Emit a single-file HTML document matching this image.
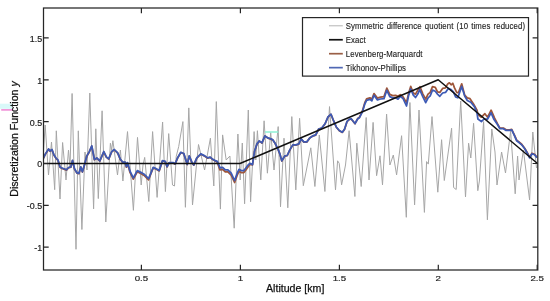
<!DOCTYPE html>
<html><head><meta charset="utf-8"><style>
html,body{margin:0;padding:0;background:#fff;width:550px;height:301px;overflow:hidden}
svg{display:block;will-change:transform}
</style></head><body>
<svg width="550" height="301" viewBox="0 0 550 301"><defs><clipPath id="c"><rect x="43.7" y="8" width="494" height="262"/></clipPath></defs><rect width="550" height="301" fill="#fff"/><g clip-path="url(#c)" fill="none" stroke-linejoin="round"><polyline points="43.5,150.0 45.2,125.0 48.5,175.0 51.5,142.0 54.7,189.7 56.3,130.8 60.0,199.0 62.6,142.5 66.0,180.0 68.5,150.0 70.0,168.0 72.1,93.5 76.0,249.3 78.3,130.8 81.9,229.5 85.0,152.0 87.0,170.0 89.8,93.0 93.6,208.9 95.8,128.8 98.3,198.6 102.1,110.8 105.8,222.0 110.4,143.2 111.6,150.0 112.9,140.7 117.5,175.0 120.4,150.0 122.9,181.0 127.5,131.6 133.4,210.3 137.5,137.4 141.2,185.0 143.0,165.0 144.7,157.4 148.8,201.5 152.6,131.6 157.1,197.4 162.6,122.0 165.4,191.6 168.7,133.6 172.5,185.0 174.5,186.0 176.2,156.5 178.7,146.6 182.9,121.6 185.4,207.3 188.8,107.9 192.5,205.0 198.5,144.5 204.6,170.0 210.4,138.2 213.8,186.0 216.3,101.6 220.4,209.1 222.6,134.9 226.2,160.0 229.9,156.0 234.2,228.2 237.9,134.0 240.2,180.0 242.3,143.0 244.6,203.8 248.3,110.0 250.6,201.8 254.1,131.6 255.8,160.0 257.4,130.7 260.8,179.9 264.1,120.8 267.4,173.2 270.7,132.4 274.0,170.0 278.2,126.6 280.5,206.8 284.0,138.2 287.8,207.8 291.8,116.6 295.8,189.9 299.6,118.3 303.3,185.7 310.8,147.8 314.9,186.5 319.3,135.0 324.9,191.5 329.5,106.6 335.5,189.9 337.6,160.8 339.2,163.3 341.6,184.9 345.5,165.0 349.1,130.7 354.9,196.5 356.8,143.2 361.2,186.5 366.2,117.5 369.0,180.0 373.1,122.4 376.6,175.7 380.0,155.8 382.5,184.9 386.6,114.1 389.9,165.0 393.3,155.0 396.6,174.9 401.6,135.7 406.3,217.3 409.9,102.5 414.6,204.9 419.0,110.0 424.4,212.4 426.6,161.6 428.3,164.1 432.0,116.6 437.8,192.2 441.6,139.7 444.3,180.5 451.6,128.2 453.6,187.5 456.2,189.5 460.7,101.0 465.5,197.0 468.6,143.2 470.8,158.0 473.6,123.3 477.8,190.7 479.4,181.0 483.6,121.6 487.4,219.8 491.8,129.0 495.0,152.0 497.0,185.0 501.6,152.0 505.5,173.0 510.6,131.0 515.2,193.8 517.6,156.0 519.0,180.0 523.4,150.0 529.6,200.0 532.8,132.0 536.5,168.0" stroke="#a6a6a6" stroke-width="1"/><line x1="265" y1="132" x2="278.4" y2="132" stroke="#8ef2d4" stroke-width="1.5"/><polyline points="43.0,159.2 45.4,154.2 48.6,149.2 50.0,151.3 52.0,149.8 54.0,155.3 56.0,158.3 58.0,160.3 60.0,167.2 61.3,168.1 64.0,169.1 66.5,170.1 68.5,167.8 70.9,167.2 72.5,160.6 74.5,169.1 76.9,173.1 78.9,173.7 80.8,167.2 82.4,172.1 84.4,165.2 86.8,156.2 89.2,152.2 91.8,146.2 94.4,159.8 96.8,158.2 99.8,161.2 103.8,151.8 106.3,157.2 108.7,159.2 111.7,151.8 114.3,149.8 117.7,153.2 120.4,159.6 122.7,162.3 125.3,162.4 126.4,167.2 127.5,163.3 130.0,172.4 133.3,179.1 137.3,171.8 141.2,173.8 144.6,175.8 148.6,179.8 153.2,168.0 155.9,168.9 159.2,170.9 162.5,160.9 165.2,161.6 167.1,166.9 169.1,162.9 173.1,162.9 175.1,164.2 177.5,158.3 180.8,152.6 183.8,153.8 187.2,164.6 189.2,156.2 191.8,162.2 193.8,165.2 196.8,158.2 200.8,154.2 204.8,156.2 207.7,158.2 210.2,157.4 212.7,159.6 215.3,161.0 217.3,162.4 220.0,169.9 222.6,169.3 225.3,171.9 227.9,171.9 231.2,175.2 234.6,182.5 237.2,175.2 239.0,171.3 241.2,172.6 243.9,172.6 245.9,169.9 247.8,167.3 249.8,164.5 252.5,164.8 254.5,151.5 257.0,144.1 259.3,141.1 261.9,143.1 264.9,136.1 267.9,138.1 270.9,139.1 272.9,140.1 274.9,143.1 277.9,149.1 279.9,154.1 281.8,161.0 284.8,156.1 287.2,155.7 289.8,150.1 292.8,145.1 295.8,145.1 298.8,144.1 301.2,139.1 303.8,142.1 306.7,142.1 309.7,138.1 312.7,136.1 315.7,135.1 318.7,129.2 321.7,128.2 325.0,124.0 328.0,117.0 331.0,114.4 333.3,120.2 336.3,127.2 339.3,130.7 342.3,132.4 344.6,129.2 347.0,121.7 349.1,119.6 351.2,119.0 355.0,123.7 357.8,118.5 359.5,117.1 362.4,110.9 364.8,102.7 366.6,98.8 369.9,97.8 371.8,99.2 374.0,93.6 377.4,98.1 380.5,97.1 384.0,96.6 386.8,88.2 389.8,94.4 392.7,95.6 395.6,95.4 398.0,96.3 400.3,94.6 403.1,96.9 406.5,102.6 408.7,93.0 410.7,86.4 413.3,93.0 415.5,94.1 417.8,90.1 420.0,86.7 422.9,94.1 425.7,99.2 428.0,94.1 430.2,92.4 432.5,86.7 435.3,87.3 437.5,91.8 439.8,92.4 442.6,88.4 445.5,87.9 447.7,83.9 449.4,82.8 451.1,84.8 452.8,83.3 454.5,87.9 456.8,92.6 458.5,92.6 461.7,83.8 464.7,95.2 467.3,97.8 470.0,98.7 473.5,104.0 477.0,110.2 477.9,114.6 481.4,117.2 484.9,113.7 487.6,117.2 491.1,110.2 494.6,118.1 497.3,123.4 499.9,128.1 503.4,128.1 506.1,129.8 509.6,129.8 511.7,129.3 514.1,134.3 516.7,140.2 519.3,142.2 521.7,144.2 524.7,148.2 527.6,153.2 529.6,157.2 532.0,153.2 534.6,154.2 537.0,157.2" stroke="#9e563a" stroke-width="1.75"/><polyline points="43.0,158.9 45.4,153.9 48.6,148.9 50.0,151.0 52.0,149.5 54.0,155.0 56.0,158.0 58.0,160.0 60.0,166.9 61.3,167.8 64.0,168.8 66.5,169.8 68.5,167.5 70.9,166.9 72.5,160.3 74.5,168.8 76.9,172.8 78.9,173.4 80.8,166.9 82.4,171.8 84.4,164.9 86.8,155.9 89.2,151.9 91.8,145.9 94.4,159.5 96.8,157.9 99.8,160.9 103.8,151.5 106.3,156.9 108.7,158.9 111.7,151.5 114.3,149.5 117.7,152.9 120.4,159.3 122.7,162.0 125.3,162.0 126.4,166.6 127.5,162.6 130.0,171.2 133.3,177.9 137.3,170.6 141.2,172.6 144.6,174.6 148.6,178.6 153.2,167.3 155.9,168.6 159.2,170.6 162.5,160.6 165.2,161.3 167.1,166.6 169.1,162.6 173.1,162.6 175.1,163.9 177.5,158.0 180.8,152.3 183.8,153.5 187.2,164.3 189.2,155.9 191.8,161.9 193.8,164.9 196.8,157.9 200.8,153.9 204.8,155.9 207.7,157.9 210.2,157.1 212.7,159.3 215.3,160.6 217.3,161.3 220.0,167.9 222.6,167.3 225.3,169.9 227.9,169.9 231.2,173.2 234.6,180.5 237.2,173.2 239.0,169.3 241.2,170.6 243.9,170.6 245.9,167.9 247.8,165.3 249.8,163.3 252.5,164.6 254.5,151.3 257.0,143.9 259.3,140.9 261.9,142.9 264.9,135.9 267.9,137.9 270.9,138.9 272.9,139.9 274.9,142.9 277.9,148.9 279.9,153.9 281.8,160.8 284.8,155.9 287.2,155.5 289.8,149.9 292.8,144.9 295.8,144.9 298.8,143.9 301.2,138.9 303.8,141.9 306.7,141.9 309.7,137.9 312.7,135.9 315.7,134.9 318.7,129.0 321.7,128.0 325.0,123.8 328.0,116.8 331.0,114.2 333.3,120.0 336.3,127.0 339.3,130.5 342.3,132.2 344.6,129.0 347.0,121.5 349.1,119.4 351.2,118.8 355.0,123.5 357.8,118.8 359.5,117.7 362.4,111.9 364.8,104.0 366.6,100.3 369.9,99.4 371.8,100.9 374.0,95.3 377.4,99.9 380.5,99.0 384.0,98.6 386.8,90.3 389.8,96.6 392.7,97.9 395.6,97.8 398.0,99.2 400.3,96.3 403.1,98.6 406.5,106.0 408.7,95.2 410.7,89.0 413.3,95.2 415.5,97.5 417.8,94.1 419.7,89.6 422.9,96.9 425.7,102.6 428.0,98.0 430.2,95.8 432.5,90.1 435.3,91.3 437.5,94.1 439.8,96.3 442.6,93.0 445.5,92.4 448.3,88.4 451.1,89.6 453.4,91.8 455.6,96.9 457.8,97.8 461.7,86.4 464.7,96.1 467.3,100.5 470.8,102.2 474.4,106.6 477.0,112.8 477.9,119.0 481.4,121.6 484.0,119.0 487.6,119.0 491.1,112.8 493.7,119.0 497.3,124.3 499.9,128.7 503.4,128.7 506.1,130.4 509.6,130.4 511.7,129.9 514.1,134.9 516.7,140.8 519.3,142.8 521.7,144.8 524.7,148.8 527.6,153.8 529.6,157.8 532.0,153.8 534.6,154.8 537.0,157.8" stroke="#3d5ab5" stroke-width="1.75"/><polyline points="42.5,163.5 240,163.5 438.2,79.8 537.5,163.5" stroke="#111" stroke-width="1.5"/></g><rect x="43.5" y="8.0" width="494.29999999999995" height="262.0" fill="none" stroke="#262626" stroke-width="1.25"/><path d="M141.4,270.0v-5.2M141.4,8.0v5.2M240.4,270.0v-5.2M240.4,8.0v5.2M339.4,270.0v-5.2M339.4,8.0v5.2M438.3,270.0v-5.2M438.3,8.0v5.2M537.2,270.0v-5.2M537.2,8.0v5.2M43.5,247.2h5.2M537.8,247.2h-5.2M43.5,205.3h5.2M537.8,205.3h-5.2M43.5,163.5h5.2M537.8,163.5h-5.2M43.5,121.7h5.2M537.8,121.7h-5.2M43.5,79.8h5.2M537.8,79.8h-5.2M43.5,37.9h5.2M537.8,37.9h-5.2" stroke="#262626" stroke-width="1.2" fill="none"/><g style="font-family:'Liberation Sans',sans-serif;font-size:8.25px" fill="#222" stroke="#222" stroke-width="0.18"><text transform="translate(42.2,41.7) scale(1.08,1.06)" text-anchor="end">1.5</text><text transform="translate(42.2,83.6) scale(1.08,1.06)" text-anchor="end">1</text><text transform="translate(42.2,125.5) scale(1.08,1.06)" text-anchor="end">0.5</text><text transform="translate(42.2,167.3) scale(1.08,1.06)" text-anchor="end">0</text><text transform="translate(42.2,209.2) scale(1.08,1.06)" text-anchor="end">-0.5</text><text transform="translate(42.2,251.0) scale(1.08,1.06)" text-anchor="end">-1</text><text transform="translate(141.4,281.3) scale(1.18,0.98)" text-anchor="middle">0.5</text><text transform="translate(240.4,281.3) scale(1.18,0.98)" text-anchor="middle">1</text><text transform="translate(339.4,281.3) scale(1.18,0.98)" text-anchor="middle">1.5</text><text transform="translate(438.3,281.3) scale(1.18,0.98)" text-anchor="middle">2</text><text transform="translate(537.2,281.3) scale(1.18,0.98)" text-anchor="middle">2.5</text></g><rect x="0" y="103.7" width="12.2" height="5.1" fill="#d9f9f9"/><line x1="1.2" y1="109.9" x2="13.3" y2="109.9" stroke="#f08cd6" stroke-width="1.6"/><text x="295.2" y="292.4" text-anchor="middle" style="font-family:'Liberation Sans',sans-serif;font-size:10.6px" fill="#111" stroke="#111" stroke-width="0.25">Altitude [km]</text><text transform="translate(18.4,139) rotate(-90)" text-anchor="middle" style="font-family:'Liberation Sans',sans-serif;font-size:10.6px" fill="#111" stroke="#111" stroke-width="0.25">Discretization Function <tspan font-style="italic">y</tspan></text><rect x="302.5" y="17.6" width="226" height="58.5" fill="#fff" stroke="#262626" stroke-width="1.2"/><line x1="329" y1="25.80" x2="342.8" y2="25.80" stroke="#b4b4b4" stroke-width="1"/><text transform="translate(345.8,28.90) scale(1,1.1)" style="font-family:'Liberation Sans',sans-serif;font-size:7.8px;letter-spacing:0.1px;word-spacing:0.9px;font-variant-ligatures:none" fill="#222" stroke="#222" stroke-width="0.12">Symmetric difference quotient (10 times reduced)</text><line x1="329" y1="39.75" x2="342.8" y2="39.75" stroke="#111" stroke-width="1.7"/><text transform="translate(345.8,42.85) scale(1,1.1)" style="font-family:'Liberation Sans',sans-serif;font-size:7.8px;letter-spacing:0.1px;word-spacing:0.9px;font-variant-ligatures:none" fill="#222" stroke="#222" stroke-width="0.12">Exact</text><line x1="329" y1="53.70" x2="342.8" y2="53.70" stroke="#9a5f46" stroke-width="1.7"/><text transform="translate(345.8,56.80) scale(1,1.1)" style="font-family:'Liberation Sans',sans-serif;font-size:7.8px;letter-spacing:0.1px;word-spacing:0.9px;font-variant-ligatures:none" fill="#222" stroke="#222" stroke-width="0.12">Levenberg-Marquardt</text><line x1="329" y1="67.65" x2="342.8" y2="67.65" stroke="#5068b4" stroke-width="1.7"/><text transform="translate(345.8,70.75) scale(1,1.1)" style="font-family:'Liberation Sans',sans-serif;font-size:7.8px;letter-spacing:0.1px;word-spacing:0.9px;font-variant-ligatures:none" fill="#222" stroke="#222" stroke-width="0.12">Tikhonov-Phillips</text></svg>
</body></html>
